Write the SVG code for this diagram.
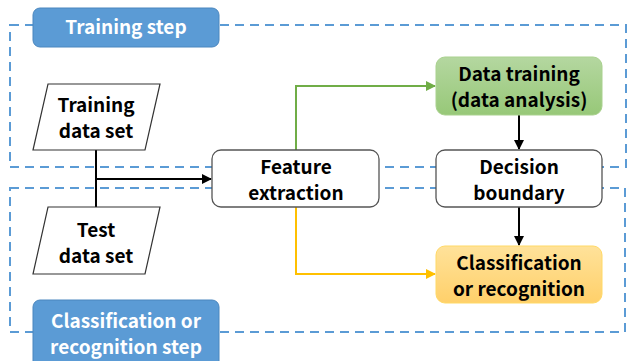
<svg xmlns="http://www.w3.org/2000/svg" width="627" height="361" viewBox="0 0 627 361">
<style>
.dash{fill:none;stroke:#5B9BD5;stroke-width:2;stroke-dasharray:9 6}
.lbl{fill:#5B9BD5;stroke:#4A86BE;stroke-width:1}
.lt{font-family:"Noto Sans CJK KR","Noto Sans",sans-serif;font-size:19px;font-weight:bold;fill:#fff;text-anchor:middle}
.t{font-family:"Noto Sans CJK KR","Noto Sans",sans-serif;font-size:19px;font-weight:bold;fill:#000;text-anchor:middle}
.box{fill:#fff;stroke:#555;stroke-width:1.3}
.para{fill:#fff;stroke:#333;stroke-width:1.2}
.k{fill:none;stroke:#000;stroke-width:2}
</style>
<defs>
<linearGradient id="gg" x1="0" y1="0" x2="0" y2="1"><stop offset="0" stop-color="#B4D7A0"/><stop offset="1" stop-color="#97C878"/></linearGradient>
<linearGradient id="og" x1="0" y1="0" x2="0" y2="1"><stop offset="0" stop-color="#FFE29A"/><stop offset="1" stop-color="#FFD06A"/></linearGradient>
<marker id="ak" viewBox="0 0 10 10" refX="9" refY="5" markerWidth="5" markerHeight="5" orient="auto"><path d="M0,0L10,5L0,10z" fill="#000"/></marker>
<marker id="ag" viewBox="0 0 10 10" refX="9" refY="5" markerWidth="5" markerHeight="5" orient="auto"><path d="M0,0L10,5L0,10z" fill="#70AD47"/></marker>
<marker id="ay" viewBox="0 0 10 10" refX="9" refY="5" markerWidth="5" markerHeight="5" orient="auto"><path d="M0,0L10,5L0,10z" fill="#FFC000"/></marker>
</defs>
<g id="regions">
<rect class="dash" x="10" y="25" width="616" height="142"/>
<rect class="dash" x="10" y="188" width="615" height="144"/>
</g>
<g id="connectors">
<path class="k" d="M96,150V207"/>
<path class="k" d="M96,179H211" marker-end="url(#ak)"/>
<path d="M296,150V86H435" fill="none" stroke="#70AD47" stroke-width="2" marker-end="url(#ag)"/>
<path d="M296,207V274H435" fill="none" stroke="#FFC000" stroke-width="2" marker-end="url(#ay)"/>
<path class="k" d="M519,115V149" marker-end="url(#ak)"/>
<path class="k" d="M519,207V245" marker-end="url(#ak)"/>
</g>
<g id="training-step">
<rect class="lbl" x="33" y="8" width="186" height="39" rx="7"/>
<text class="lt" x="126" y="34">Training step</text>
</g>
<g id="classification-step">
<rect class="lbl" x="33" y="300" width="186" height="70" rx="7"/>
<text class="lt" x="126" y="328">Classification or</text>
<text class="lt" x="126" y="354">recognition step</text>
</g>
<g id="training-data">
<polygon class="para" points="48,84 160,84 145,150 33,150"/>
<text class="t" x="96" y="112">Training</text>
<text class="t" x="96" y="138">data set</text>
</g>
<g id="test-data">
<polygon class="para" points="48,207 160,207 145,274 33,274"/>
<text class="t" x="96" y="237">Test</text>
<text class="t" x="96" y="263">data set</text>
</g>
<g id="feature-extraction">
<rect class="box" x="212" y="150" width="167" height="57" rx="9"/>
<text class="t" x="296" y="174">Feature</text>
<text class="t" x="296" y="200">extraction</text>
</g>
<g id="data-training">
<rect x="436" y="57" width="166" height="58" rx="9" fill="url(#gg)" stroke="#A9D18E" stroke-width="1"/>
<text class="t" x="519" y="81">Data training</text>
<text class="t" x="519" y="107">(data analysis)</text>
</g>
<g id="decision-boundary">
<rect class="box" x="436" y="150" width="166" height="57" rx="9"/>
<text class="t" x="519" y="174">Decision</text>
<text class="t" x="519" y="200">boundary</text>
</g>
<g id="classification">
<rect x="436" y="246" width="166" height="57" rx="9" fill="url(#og)" stroke="#FFD966" stroke-width="1"/>
<text class="t" x="519" y="270">Classification</text>
<text class="t" x="519" y="296">or recognition</text>
</g>
</svg>
